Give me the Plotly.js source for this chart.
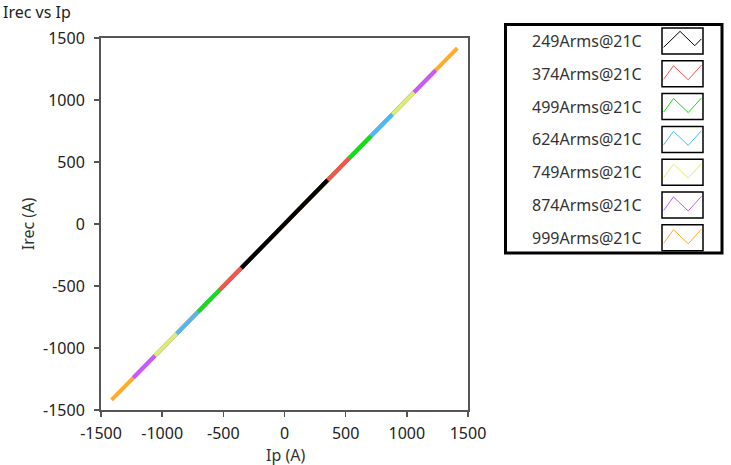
<!DOCTYPE html>
<html>
<head>
<meta charset="utf-8">
<script src="https://cdn.plot.ly/plotly-3.0.1.min.js"></script>
<style>html,body{margin:0;padding:0;background:#fff;}#chart{width:731px;height:465px;}</style>
</head>
<body>
<div id="chart"></div>
<script>
// ---- data ----
const seriesNames = ['249Arms@21C','374Arms@21C','499Arms@21C','624Arms@21C','749Arms@21C','874Arms@21C','999Arms@21C'];
const ip249  = [-352, 0, 352];   const irec249  = [-355, 0, 355];
const ip374  = [-529, 0, 529];   const irec374  = [-532, 0, 532];
const ip499  = [-706, 0, 706];   const irec499  = [-708, 0, 708];
const ip624  = [-882, 0, 882];   const irec624  = [-885, 0, 885];
const ip749  = [-1059, 0, 1059]; const irec749  = [-1062, 0, 1062];
const ip874  = [-1236, 0, 1236]; const irec874  = [-1240, 0, 1240];
const ip999  = [-1413, 0, 1413]; const irec999  = [-1418, 0, 1418];
const axisTicks = [-1500, -1000, -500, 0, 500, 1000, 1500];

// ---- styles ----
const colors = ['#000000','#ff5050','#10e010','#50b8f0','#d8f070','#c858ff','#ffaa28'];
const xs = [ip249, ip374, ip499, ip624, ip749, ip874, ip999];
const ys = [irec249, irec374, irec499, irec624, irec749, irec874, irec999];

const FONT = 'Noto Sans, Open Sans, sans-serif';
const L = 101, R = 468, T = 38, B = 410, W = 731, H = 465;
const px = x => (x - L) / (R - L);
const py = y => (B - y) / (B - T);

// draw largest first so the smaller amplitudes sit on top
const traces = [];
for (let i = seriesNames.length - 1; i >= 0; i--) {
  traces.push({
    x: xs[i], y: ys[i], type: 'scatter', mode: 'lines', name: seriesNames[i],
    line: {color: colors[i], width: 4}, showlegend: false, hoverinfo: 'skip'
  });
}

// custom legend (text left, swatch right, boxed)
const shapes = [];
const annotations = [];
shapes.push({type: 'rect', xref: 'paper', yref: 'paper',
  x0: px(505.5), x1: px(722), y0: py(24.5), y1: py(253),
  line: {color: '#000', width: 3}, fillcolor: 'rgba(0,0,0,0)'});
const boxTop0 = 28, boxStep = 32.8, boxH = 26, bx0 = 662, bx1 = 703;
const zigColored = [[0.04,0.71],[0.28,0.19],[0.64,0.73],[0.96,0.17]];
const zigBlack = [[0.04,0.74],[0.44,0.13],[0.80,0.68],[0.96,0.42]];
seriesNames.forEach((nm, i) => {
  const top = boxTop0 + i * boxStep;
  shapes.push({type: 'rect', xref: 'paper', yref: 'paper',
    x0: px(bx0), x1: px(bx1), y0: py(top), y1: py(top + boxH),
    line: {color: '#000', width: 1.5}, fillcolor: '#fff'});
  const zz = i === 0 ? zigBlack : zigColored;
  let path = '';
  zz.forEach((p, k) => {
    const X = px(bx0 + p[0] * (bx1 - bx0));
    const Y = py(top + p[1] * boxH);
    path += (k === 0 ? 'M ' : ' L ') + X + ' ' + Y;
  });
  shapes.push({type: 'path', xref: 'paper', yref: 'paper', path: path,
    line: {color: colors[i], width: 1}});
  annotations.push({xref: 'paper', yref: 'paper', x: px(644), y: py(top + boxH / 2),
    xanchor: 'right', yanchor: 'middle', text: nm, showarrow: false,
    font: {family: FONT, size: 16, color: '#333'}});
});

// x axis title placed near the bottom edge, as in the reference
annotations.push({xref: 'paper', yref: 'paper', x: px(285), y: py(455),
  xanchor: 'center', yanchor: 'middle', text: 'Ip (A)', showarrow: false,
  font: {family: FONT, size: 16, color: '#333'}});

const axisCommon = {
  range: [-1500, 1500], tickvals: axisTicks, ticktext: axisTicks.map(String),
  showgrid: false, zeroline: false, showline: true, mirror: true,
  linecolor: '#555', linewidth: 2, ticks: 'outside', ticklen: 5, tickwidth: 1.5,
  tickcolor: '#555', tickfont: {family: FONT, size: 16, color: '#222'}, fixedrange: true
};

const layout = {
  width: W, height: H,
  margin: {l: L, r: W - R, t: T, b: H - B, pad: 0},
  paper_bgcolor: '#fff', plot_bgcolor: '#fff',
  showlegend: false,
  title: {text: 'Irec vs Ip', xref: 'container', yref: 'container', x: 3 / W, xanchor: 'left',
    y: 1 - 12 / H, yanchor: 'middle', font: {family: FONT, size: 16, color: '#222'}},
  xaxis: Object.assign({}, axisCommon, {ticklabelstandoff: 3}),
  yaxis: Object.assign({}, axisCommon, {ticklabelstandoff: 6,
    title: {text: 'Irec (A)', standoff: 4, font: {family: FONT, size: 16, color: '#333'}}}),
  shapes: shapes,
  annotations: annotations
};

Plotly.newPlot('chart', traces, layout, {displayModeBar: false, staticPlot: true});
</script>
</body>
</html>
